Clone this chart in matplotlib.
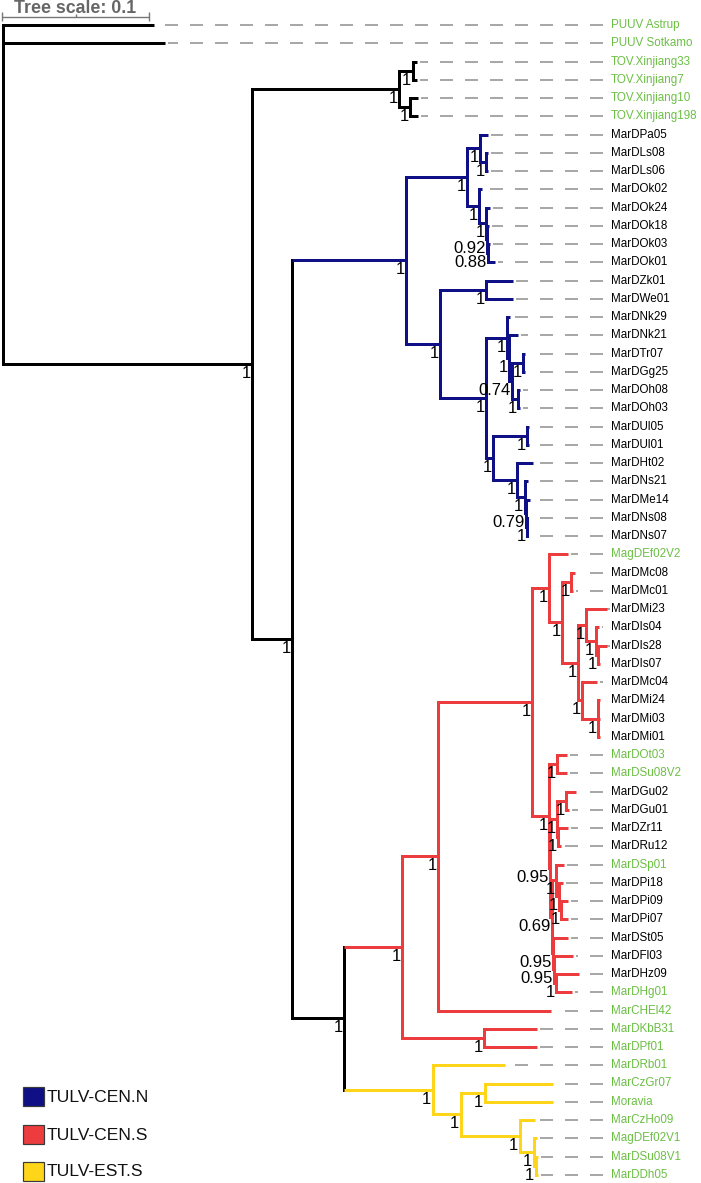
import re
import matplotlib
matplotlib.use("Agg")
import matplotlib.pyplot as plt
from matplotlib.patches import Rectangle

# ------------------------------------------------------------------
# DATA (branch lengths in substitutions/site, node labels = support)
# ------------------------------------------------------------------
tov_clade = ("((TOV.Xinjiang33:0.0027,TOV.Xinjiang7:0.0027)1:0.0095,"
             "(TOV.Xinjiang10:0.0054,TOV.Xinjiang198:0.0054)1:0.0075)1")

cen_n_upper = ("((MarDPa05:0.0054,(MarDLs08:0.0014,MarDLs06:0.0014)1:0.0041)1:0.0088,"
               "(MarDOk02:0.0020,(MarDOk24:0.0027,(MarDOk18:0.0014,"
               "(MarDOk03:0.0014,MarDOk01:0.0048)0.88:0.0007)0.92:0.0007)1:0.0048)1:0.0082)1")
cen_n_nk = ("(MarDNk29:0.0020,(MarDNk21:0.0061,((MarDTr07:0.0014,MarDGg25:0.0014)1:0.0075,"
            "(MarDOh08:0.0014,MarDOh03:0.0014)1:0.0041)0.74:0.0020)1:0.0014)1")
cen_n_ns = ("((MarDUl05:0.0014,MarDUl01:0.0014)1:0.0231,(MarDHt02:0.0109,(MarDNs21:0.0020,"
            "(MarDMe14:0.0027,(MarDNs08:0.0007,MarDNs07:0.0007)1:0.0007)0.79:0.0007)1:0.0054)1:0.0163)1")
cen_n_lower = ("((MarDZk01:0.0184,MarDWe01:0.0184)1:0.0313,(" + cen_n_nk + ":0.0143,"
               + cen_n_ns + ":0.0048)1:0.0313)1")
cen_n_clade = "(" + cen_n_upper + ":0.0415," + cen_n_lower + ":0.0231)1"

cen_s_mi = ("((MarDMi23:0.0143,(MarDIs04:0.0020,(MarDIs28:0.0061,MarDIs07:0.0014)1:0.0014)1:0.0068)1:0.0054,"
            "(MarDMc04:0.0102,(MarDMi24:0.0014,MarDMi03:0.0014,MarDMi01:0.0014)1:0.0109)1:0.0027)1")
cen_s_mag = ("(MagDEf02V2:0.0129,((MarDMc08:0.0027,MarDMc01:0.0014)1:0.0061,"
             + cen_s_mi + ":0.0109)1:0.0088)1")
cen_s_pi = ("((MarDSp01:0.0054,(MarDPi18:0.0027,(MarDPi09:0.0048,MarDPi07:0.0048)1:0.0014)1:0.0020)1:0.0027,"
            "(MarDSt05:0.0102,(MarDFl03:0.0129,(MarDHz09:0.0156,MarDHg01:0.0109)1:0.0014)0.95:0.0007)0.95:0.0007)0.69")
cen_s_gu = ("((MarDOt03:0.0068,MarDSu08V2:0.0068)1:0.0054,(((MarDGu02:0.0068,MarDGu01:0.0020)1:0.0061,"
            "(MarDZr11:0.0068,MarDRu12:0.0020)1:0.0007)1:0.0048," + cen_s_pi + ":0.0014)0.95:0.0007)1")
cen_s_clade = ("(((" + cen_s_mag + ":0.0116," + cen_s_gu + ":0.0116)1:0.0639,MarCHEl42:0.0769)1:0.0245,"
               "(MarDKbB31:0.0361,MarDPf01:0.0361)1:0.0558)1")

est_s_clade = ("(MarDRb01:0.0490,((MarCzGr07:0.0463,Moravia:0.0463)1:0.0163,"
               "(MarCzHo09:0.0102,(MagDEf02V1:0.0020,(MarDSu08V1:0.0014,MarDDh05:0.0014)1:0.0014)1:0.0095)1:0.0401)1:0.0190)1")

backbone = ("(PUUV Astrup:0.1027,PUUV Sotkamo:0.1102,(" + tov_clade + ":0.1000,("
            + cen_n_clade + ":0.0776,(" + cen_s_clade + ":0.0395," + est_s_clade
            + ":0.0605)1:0.0354)1:0.0272)1:0.1694);")

green_taxa = ["PUUV Astrup", "PUUV Sotkamo", "TOV.Xinjiang33", "TOV.Xinjiang7",
              "TOV.Xinjiang10", "TOV.Xinjiang198", "MagDEf02V2", "MarDOt03",
              "MarDSu08V2", "MarDSp01", "MarDHg01", "MarCHEl42", "MarDKbB31",
              "MarDPf01", "MarDRb01", "MarCzGr07", "Moravia", "MarCzHo09",
              "MagDEf02V1", "MarDSu08V1", "MarDDh05"]

legend_labels = ["TULV-CEN.N", "TULV-CEN.S", "TULV-EST.S"]
clade_strings = [cen_n_clade, cen_s_clade, est_s_clade]
clade_colors = ["#0f0f86", "#ec3c3e", "#ffd51a"]
tree_scale_value = 0.1

# ------------------------------------------------------------------
# Newick parsing
# ------------------------------------------------------------------
def parse_newick(s):
    s = s.strip().rstrip(";")
    pos = 0

    def node():
        nonlocal pos
        n = {"children": [], "name": "", "support": "", "length": 0.0}
        if s[pos] == "(":
            pos += 1
            while True:
                n["children"].append(node())
                if s[pos] == ",":
                    pos += 1
                    continue
                if s[pos] == ")":
                    pos += 1
                    break
            m = re.match(r"[^:,();]*", s[pos:])
            n["support"] = m.group(0)
            pos += len(m.group(0))
        else:
            m = re.match(r"[^:,();]*", s[pos:])
            n["name"] = m.group(0)
            pos += len(m.group(0))
        if pos < len(s) and s[pos] == ":":
            pos += 1
            m = re.match(r"[0-9.eE+-]+", s[pos:])
            n["length"] = float(m.group(0))
            pos += len(m.group(0))
        return n

    return node()


def leaves(n):
    if not n["children"]:
        return [n["name"]]
    out = []
    for c in n["children"]:
        out += leaves(c)
    return out


tree = parse_newick(backbone)
clade_sets = [set(leaves(parse_newick(c))) for c in clade_strings]

# ------------------------------------------------------------------
# Layout (pixel coordinates)
# ------------------------------------------------------------------
W, H = 701, 1183
X0 = 3.0
PX_PER_UNIT = 1470.0
Y_FIRST, Y_STEP = 25.0, 18.25
LABEL_X = 611
DASH_END = 603

leaf_counter = [0]


def layout(n, depth):
    n["x"] = X0 + depth * PX_PER_UNIT
    if not n["children"]:
        n["y"] = Y_FIRST + leaf_counter[0] * Y_STEP
        leaf_counter[0] += 1
    else:
        for c in n["children"]:
            layout(c, depth + c["length"])
        n["y"] = (n["children"][0]["y"] + n["children"][-1]["y"]) / 2.0
    ls = set(leaves(n))
    n["color"] = "black"
    for cs, col in zip(clade_sets, clade_colors):
        if ls <= cs:
            n["color"] = col


layout(tree, 0.0)

px = 0.72  # points per pixel at dpi 100
plt.rcParams["font.family"] = ["Liberation Sans", "DejaVu Sans"]
plt.rcParams["lines.scale_dashes"] = False

fig = plt.figure(figsize=(W / 100, H / 100), dpi=100)
ax = fig.add_axes([0, 0, 1, 1])
ax.set_xlim(0, W)
ax.set_ylim(H, 0)
ax.axis("off")

BR_LW = 3.0 * px


def draw(n, parent=None, is_root=False):
    if parent is not None:
        ax.plot([parent["x"], n["x"]], [n["y"], n["y"]], color=n["color"],
                lw=BR_LW, solid_capstyle="butt", zorder=3)
    if n["children"]:
        ax.plot([n["x"], n["x"]], [n["children"][0]["y"], n["children"][-1]["y"]],
                color=n["color"], lw=BR_LW, solid_capstyle="projecting", zorder=3)
        if not is_root and n["support"]:
            ax.text(n["x"] - 1.5, n["y"] + 9.5, n["support"], ha="right", va="center",
                    fontsize=12.0, color="black", zorder=5)
        for c in n["children"]:
            draw(c, n)
    else:
        ax.plot([DASH_END, n["x"] + 3], [n["y"], n["y"]], color="#a8a8a8",
                lw=2 * px, linestyle=(0, (13 * px, 12 * px)), solid_capstyle="butt",
                dash_capstyle="butt", zorder=2)
        col = "#6cbf45" if n["name"] in green_taxa else "black"
        ax.text(LABEL_X, n["y"], n["name"], ha="left", va="center",
                fontsize=8.4, color=col, zorder=5)


draw(tree, None, is_root=True)

# tree scale bar
sb_len = tree_scale_value * PX_PER_UNIT
sb_col = "#777777"
ax.plot([X0 - 1, X0 - 1 + sb_len], [17, 17], color=sb_col, lw=1.4 * px, solid_capstyle="butt")
for xt, (ya, yb) in [(X0 - 1, (12, 21)), (X0 - 1 + sb_len / 2, (13.5, 17)), (X0 - 1 + sb_len, (12, 21))]:
    ax.plot([xt, xt], [ya, yb], color=sb_col, lw=1.4 * px, solid_capstyle="butt")
ax.text(X0 - 1 + sb_len / 2, 13, "Tree scale: %g" % tree_scale_value, ha="center",
        va="baseline", fontsize=12.8, fontweight="bold", color="#666666")

# legend
leg_y = [1087, 1125, 1162]
for lab, col, yy in zip(legend_labels, clade_colors, leg_y):
    ax.add_patch(Rectangle((22.5, yy), 21, 19, facecolor=col, edgecolor="#3a3a3a",
                           lw=1.2 * px, zorder=5))
    ax.text(47, yy + 10, lab, ha="left", va="center", fontsize=12.6, color="#111111")

fig.savefig("out.png", dpi=100)
